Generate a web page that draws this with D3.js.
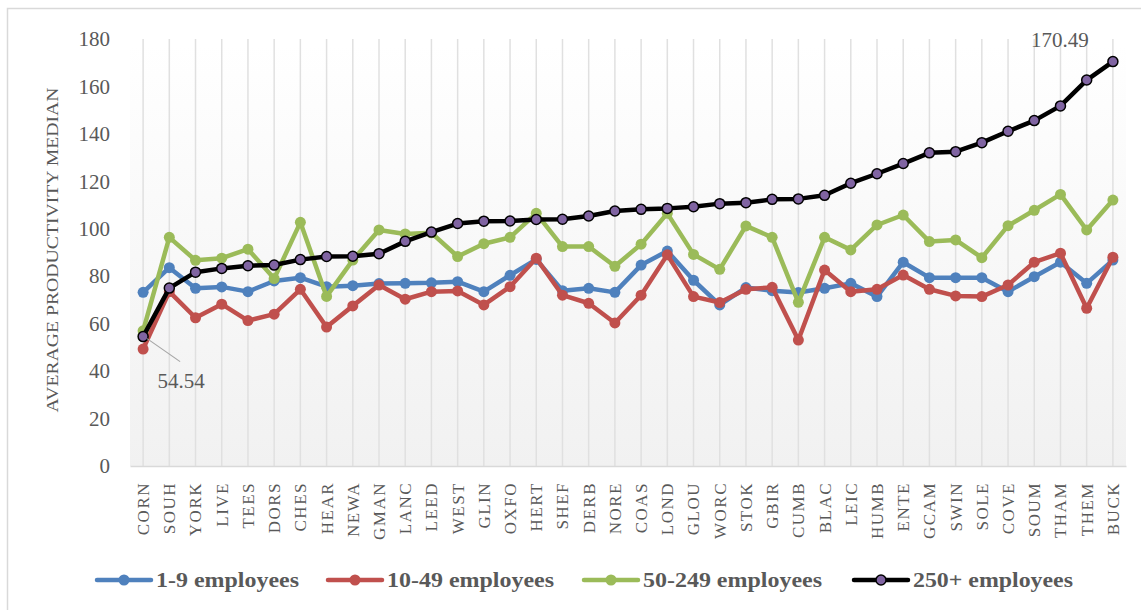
<!DOCTYPE html>
<html>
<head>
<meta charset="utf-8">
<script src="https://cdnjs.cloudflare.com/ajax/libs/d3/7.8.5/d3.min.js"></script>
<style>
  body { margin: 0; background: #fff; }
  svg { display: block; }
</style>
</head>
<body>
<svg id="chart" width="1141" height="610"></svg>
<script>
// data
const categories = ["CORN","SOUH","YORK","LIVE","TEES","DORS","CHES","HEAR","NEWA","GMAN",
  "LANC","LEED","WEST","GLIN","OXFO","HERT","SHEF","DERB","NORE","COAS","LOND","GLOU",
  "WORC","STOK","GBIR","CUMB","BLAC","LEIC","HUMB","ENTE","GCAM","SWIN","SOLE","COVE",
  "SOUM","THAM","THEM","BUCK"];

const emp1_9 = [73.2, 83.6, 74.9, 75.5, 73.5, 78.0, 79.4, 75.6, 76.0, 76.9, 77.0, 77.2, 77.7,
  73.5, 80.4, 87.1, 73.9, 74.9, 73.2, 84.7, 90.6, 78.3, 67.9, 75.2, 73.9, 73.1, 74.9, 77.0,
  71.4, 85.9, 79.4, 79.4, 79.4, 73.5, 79.8, 85.9, 77.0, 86.8];

const emp10_49 = [49.3, 73.5, 62.5, 68.2, 61.3, 64.0, 74.5, 58.6, 67.5, 76.3, 70.3, 73.5, 73.8,
  67.9, 75.6, 87.6, 72.0, 68.6, 60.3, 72.0, 89.0, 71.4, 68.9, 74.5, 75.3, 53.1, 82.6, 73.5,
  74.5, 80.5, 74.5, 71.7, 71.4, 76.3, 85.9, 89.7, 66.5, 88.0];

const emp50_249 = [57.0, 96.4, 86.7, 87.6, 91.4, 79.0, 102.7, 71.5, 86.8, 99.5, 97.8, 98.3, 88.3,
  93.7, 96.4, 106.5, 92.5, 92.5, 84.2, 93.5, 106.5, 89.2, 82.9, 101.2, 96.4, 69.0, 96.4, 91.1,
  101.6, 105.8, 94.6, 95.3, 87.8, 101.3, 107.8, 114.5, 99.5, 112.1];

const emp250 = [54.54, 75.0, 81.7, 83.3, 84.4, 84.7, 87.0, 88.3, 88.4, 89.5, 94.7, 98.6, 102.2,
  103.2, 103.3, 103.9, 104.0, 105.4, 107.5, 108.2, 108.6, 109.3, 110.6, 111.0, 112.4, 112.6,
  114.1, 119.2, 123.2, 127.5, 132.0, 132.5, 136.3, 141.1, 145.6, 151.8, 162.7, 170.49];

const yTicks = [0, 20, 40, 60, 80, 100, 120, 140, 160, 180];

const seriesNames = ["1-9 employees", "10-49 employees", "50-249 employees", "250+ employees"];

const series = [
  { name: seriesNames[0], values: emp1_9,    color: "#4f81bd", marker: "#4f81bd", stroke: "none" },
  { name: seriesNames[1], values: emp10_49,  color: "#c0504d", marker: "#c0504d", stroke: "none" },
  { name: seriesNames[2], values: emp50_249, color: "#9bbb59", marker: "#9bbb59", stroke: "none" },
  { name: seriesNames[3], values: emp250,    color: "#000000", marker: "#8064a2", stroke: "#000" }
];

const svg = d3.select("#chart");
const serif = "'Liberation Serif', 'DejaVu Serif', serif";
const plotLeft = 130, plotRight = 1126, plotTop = 39, plotBottom = 466;

// outer frame
svg.append("rect")
  .attr("x", 7.5).attr("y", 8.5)
  .attr("width", 1145).attr("height", 620)
  .attr("fill", "#fff").attr("stroke", "#d9d9d9").attr("stroke-width", 1.5);

const x = d3.scaleBand().domain(categories).range([plotLeft, plotRight]);
const y = d3.scaleLinear().domain([0, 180]).range([plotBottom, plotTop]);

// plot area gradient
const grad = svg.append("defs").append("linearGradient")
  .attr("id", "bg").attr("x1", 0).attr("y1", 0).attr("x2", 0).attr("y2", 1);
grad.append("stop").attr("offset", "0%").attr("stop-color", "#ffffff");
grad.append("stop").attr("offset", "100%").attr("stop-color", "#f1f1f1");

svg.append("rect")
  .attr("x", plotLeft).attr("y", 45)
  .attr("width", plotRight - plotLeft).attr("height", plotBottom - 45)
  .attr("fill", "url(#bg)");

// vertical gridlines at each category
svg.append("g").selectAll("line")
  .data(categories).join("line")
  .attr("x1", d => x(d) + x.bandwidth() / 2)
  .attr("x2", d => x(d) + x.bandwidth() / 2)
  .attr("y1", plotTop).attr("y2", plotBottom)
  .attr("stroke", "#e0e0e0").attr("stroke-width", 1.5);

// x axis
const xAxis = svg.append("g")
  .attr("transform", `translate(0,${plotBottom})`)
  .call(d3.axisBottom(x).tickSize(0).tickPadding(0));
xAxis.select(".domain").attr("stroke", "#d9d9d9").attr("stroke-width", 1.5);
xAxis.selectAll("text")
  .attr("transform", "translate(0,16) rotate(-90)")
  .attr("text-anchor", "end")
  .attr("dy", "0.35em")
  .attr("x", 0).attr("y", 0)
  .attr("font-family", serif).attr("font-size", 17)
  .attr("letter-spacing", 1.5)
  .attr("fill", "#595959");

// y axis (labels only)
const yAxis = svg.append("g")
  .attr("transform", `translate(${plotLeft},0)`)
  .call(d3.axisLeft(y).tickValues(yTicks).tickSize(0).tickPadding(20));
yAxis.select(".domain").remove();
yAxis.selectAll("text")
  .attr("font-family", serif).attr("font-size", 21)
  .attr("fill", "#595959");

svg.append("text")
  .attr("transform", "translate(58,250) rotate(-90)")
  .attr("text-anchor", "middle")
  .attr("font-family", serif).attr("font-size", 16)
  .attr("textLength", 325).attr("lengthAdjust", "spacingAndGlyphs")
  .attr("fill", "#595959")
  .text("AVERAGE PRODUCTIVITY MEDIAN");

// lines + markers
const cx = (d, i) => x(categories[i]) + x.bandwidth() / 2;
const line = d3.line().x(cx).y(d => y(d));

series.forEach(s => {
  const g = svg.append("g");
  g.append("path")
    .attr("d", line(s.values))
    .attr("fill", "none")
    .attr("stroke", s.color)
    .attr("stroke-width", 4.5)
    .attr("stroke-linejoin", "round");
  g.selectAll("circle")
    .data(s.values).join("circle")
    .attr("cx", cx).attr("cy", d => y(d))
    .attr("r", s.stroke === "none" ? 5.5 : 5)
    .attr("fill", s.marker)
    .attr("stroke", s.stroke).attr("stroke-width", 1.5);
});

// data labels for 250+ series
const last = emp250.length - 1;
svg.append("text")
  .attr("x", cx(emp250[last], last) - 53).attr("y", y(emp250[last]) - 15)
  .attr("text-anchor", "middle")
  .attr("font-family", serif).attr("font-size", 21)
  .attr("fill", "#595959")
  .text(emp250[last].toFixed(2));

svg.append("line")
  .attr("x1", cx(emp250[0], 0) + 4).attr("y1", y(emp250[0]) + 2)
  .attr("x2", cx(emp250[0], 0) + 37).attr("y2", y(emp250[0]) + 25)
  .attr("stroke", "#a6a6a6").attr("stroke-width", 1.2);
svg.append("text")
  .attr("x", cx(emp250[0], 0) + 38).attr("y", y(emp250[0]) + 51)
  .attr("text-anchor", "middle")
  .attr("font-family", serif).attr("font-size", 21)
  .attr("fill", "#595959")
  .text(emp250[0].toFixed(2));

// legend
const legendX = [97, 328, 584, 854];
const legendW = [143, 167, 179, 160];
const legend = svg.append("g").attr("transform", "translate(0,580)");
series.forEach((s, i) => {
  const g = legend.append("g").attr("transform", `translate(${legendX[i]},0)`);
  g.append("line")
    .attr("x1", 0).attr("x2", 54).attr("y1", 0).attr("y2", 0)
    .attr("stroke", s.color).attr("stroke-width", 4.5).attr("stroke-linecap", "round");
  g.append("circle")
    .attr("cx", 27).attr("cy", 0).attr("r", s.stroke === "none" ? 5.5 : 5)
    .attr("fill", s.marker).attr("stroke", s.stroke).attr("stroke-width", 1.5);
  g.append("text")
    .attr("x", 59).attr("y", 0).attr("dy", "0.35em")
    .attr("font-family", serif).attr("font-size", 20).attr("font-weight", "bold")
    .attr("textLength", legendW[i]).attr("lengthAdjust", "spacingAndGlyphs")
    .attr("fill", "#595959")
    .text(s.name);
});
</script>
</body>
</html>
